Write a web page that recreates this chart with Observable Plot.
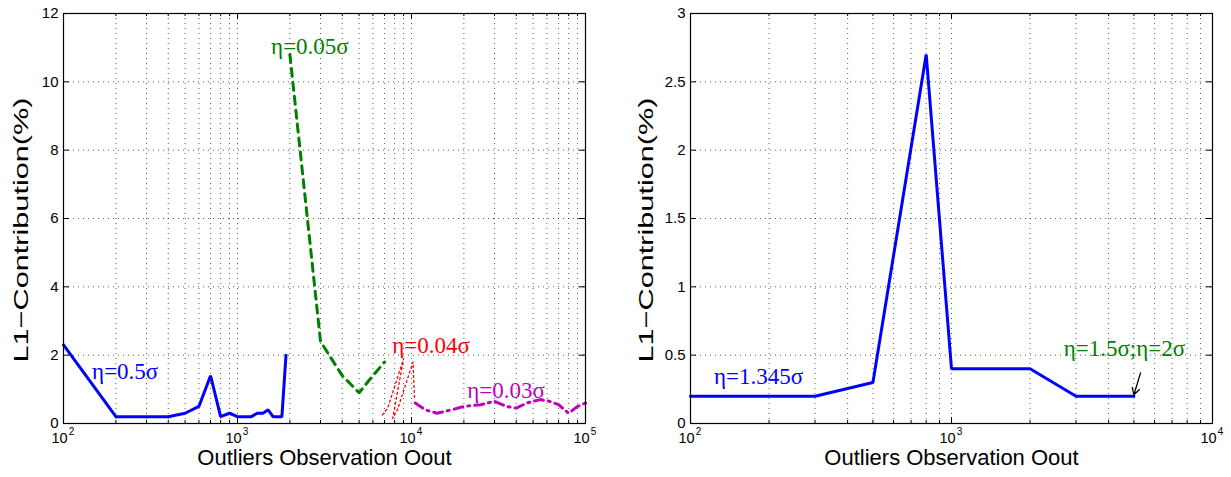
<!DOCTYPE html>
<html><head><meta charset="utf-8">
<script src="https://cdn.jsdelivr.net/npm/d3@7"></script>
<script src="https://cdn.jsdelivr.net/npm/@observablehq/plot@0.6"></script>
<style>
html,body{margin:0;padding:0;background:#fff;}
#wrap{position:relative;width:1231px;height:477px;overflow:hidden;background:#fff;}
#wrap svg{position:absolute;top:0;}
</style></head><body><div id="wrap"></div>
<script>
// ---------- Left panel data ----------
const blueX = [100,200,300,400,500,600,700,800,900,1000,1100,1200,1300,1400,1500,1600,1700,1800,1900];
const blueY = [2.3,0.2,0.2,0.2,0.3,0.5,1.4,0.2,0.3,0.2,0.2,0.2,0.3,0.3,0.4,0.2,0.2,0.2,2.0];
const greenX = [2000,3000,4000,5000,6000,7000];
const greenY = [10.8,2.4,1.4,0.9,1.4,1.8];
const redX = [6800,7300,9000,7800,8300,10200,10400];
const redY = [0.25,0.45,1.9,0.15,0.4,1.8,0.75];
const magentaX = [10500,12000,14000,17000,20000,25000,30000,35000,40000,46000,55000,62000,70000,80000,90000,100000];
const magentaY = [0.6,0.4,0.3,0.4,0.5,0.55,0.65,0.5,0.45,0.6,0.7,0.65,0.55,0.3,0.5,0.6];
const leftLabelText = ["η=0.5σ","η=0.05σ","η=0.04σ","η=0.03σ"];
const leftLabelX = [146,1560,7750,20900];
const leftLabelY = [1.52,11.03,2.28,0.95];
const leftLabelColor = ["#0000ff","#007f00","#ff0000","#bf00bf"];
const leftYTicks = [0,2,4,6,8,10,12];
const leftXMajors = [1e2,1e3,1e4,1e5];

// ---------- Right panel data ----------
const rightX = [100,300,500,800,1000,2000,3000,5000];
const rightY = [0.2,0.2,0.3,2.7,0.4,0.4,0.2,0.2];
const rightLabelText = ["η=1.345σ","η=1.5σ;η=2σ"];
const rightLabelX = [123,2690];
const rightLabelY = [0.34,0.55];
const rightLabelColor = ["#0000ff","#007f00"];
const arrowX1 = [5300], arrowY1 = [0.37], arrowX2 = [5000], arrowY2 = [0.21];
const rightYTicks = [0,0.5,1,1.5,2,2.5,3];
const rightXMajors = [1e2,1e3,1e4];

const xTitle = "Outliers Observation Oout";
const yTitle = "L1\u2212Contribution(%)";

function minorsOf(majors){
  const out=[];
  for(let i=0;i<majors.length-1;i++) for(let k=2;k<=9;k++) out.push(majors[i]*k);
  return out;
}

function panel(o){
  const H=477, mT=13, mB=54;
  const fh = H-mT-mB, fw = o.width-o.mL-o.mR;
  const minors = minorsOf(o.xMajors);
  const gridX = [...o.xMajors.slice(1,-1), ...minors];
  const gridY = o.yTicks.slice(1,-1);
  const grid = {stroke:"#000", strokeOpacity:0.8, strokeWidth:0.8, strokeDasharray:"1,4"};
  const sans = "Liberation Sans, Arial, Helvetica, sans-serif";
  const serif = "Liberation Serif, Times New Roman, serif";
  const marks = [
    Plot.ruleY(gridY, {y:d=>d, ...grid}),
    Plot.ruleX(gridX, {x:d=>d, ...grid}),
    // inner ticks
    Plot.ruleX(o.xMajors, {x:d=>d, insetTop:fh-6, stroke:"#000"}),
    Plot.ruleX(o.xMajors, {x:d=>d, insetBottom:fh-6, stroke:"#000"}),
    Plot.ruleX(minors, {x:d=>d, insetTop:fh-3, stroke:"#000"}),
    Plot.ruleX(minors, {x:d=>d, insetBottom:fh-3, stroke:"#000"}),
    Plot.ruleY(o.yTicks, {y:d=>d, insetRight:fw-6, stroke:"#000"}),
    Plot.ruleY(o.yTicks, {y:d=>d, insetLeft:fw-6, stroke:"#000"}),
    ...o.lines,
    Plot.frame({stroke:"#000", strokeWidth:1.2}),
    // tick labels
    Plot.text(o.yTicks, {y:d=>d, text:d=>String(d), frameAnchor:"left", textAnchor:"end", dx:-5, fontSize:15, fontFamily:sans, fill:"#000"}),
    Plot.text(o.xMajors, {x:d=>d, text:()=> "10", frameAnchor:"bottom", dy:19, dx:-4, fontSize:14.5, fontFamily:sans, fill:"#000"}),
    Plot.text(o.xMajors, {x:d=>d, text:d=>String(Math.round(Math.log10(d))), frameAnchor:"bottom", dy:11, dx:8, fontSize:10, fontFamily:sans, fill:"#000"}),
    // axis titles
    Plot.text([xTitle], {text:d=>d, frameAnchor:"bottom", dy:41, fontSize:22, fontFamily:sans, fill:"#000"}),
    Plot.text([yTitle], {text:d=>d, frameAnchor:"left", rotate:-90, dx:o.yTitleDx, dy:12, fontSize:21, fontFamily:sans, fill:"#000"}),
    // series labels
    Plot.text(o.labels, {x:"x", y:"y", text:"t", fill:"c", textAnchor:"start", fontSize:23, fontFamily:serif}),
    ...(o.extra||[])
  ];
  return Plot.plot({
    width:o.width, height:H, marginLeft:o.mL, marginRight:o.mR, marginTop:mT, marginBottom:mB,
    x:{type:"log", domain:o.xDomain, axis:null},
    y:{domain:o.yDomain, axis:null},
    style:{background:"white", fontFamily:"Liberation Sans, Arial, sans-serif", overflow:"visible"},
    marks
  });
}

const blue = blueX.map((x,i)=>({x, y:blueY[i]}));
const green = greenX.map((x,i)=>({x, y:greenY[i]}));
const red = redX.map((x,i)=>({x, y:redY[i]}));
const magenta = magentaX.map((x,i)=>({x, y:magentaY[i]}));
const right = rightX.map((x,i)=>({x, y:rightY[i]}));
const leftLabels = leftLabelText.map((t,i)=>({t, x:leftLabelX[i], y:leftLabelY[i], c:leftLabelColor[i]}));
const rightLabels = rightLabelText.map((t,i)=>({t, x:rightLabelX[i], y:rightLabelY[i], c:rightLabelColor[i]}));
const arrows = arrowX1.map((x1,i)=>({x1, y1:arrowY1[i], x2:arrowX2[i], y2:arrowY2[i]}));

const left = panel({
  width:615, mL:63, mR:30, xDomain:[1e2,1e5], yDomain:[0,12],
  xMajors:leftXMajors, yTicks:leftYTicks, yTitleDx:-42,
  lines:[
    Plot.line(blue, {x:"x", y:"y", stroke:"#0000ff", strokeWidth:3, strokeLinejoin:"miter"}),
    Plot.line(green, {x:"x", y:"y", stroke:"#007f00", strokeWidth:3, strokeDasharray:"8,6"}),
    Plot.line(red, {x:"x", y:"y", stroke:"#ff0000", strokeWidth:1.3, strokeDasharray:"2,3"}),
    Plot.line(magenta, {x:"x", y:"y", stroke:"#bf00bf", strokeWidth:3, strokeDasharray:"9,5,2,5"})
  ],
  labels:leftLabels
});
const rightPlot = panel({
  width:616, mL:75, mR:19, xDomain:[1e2,1e4], yDomain:[0,3],
  xMajors:rightXMajors, yTicks:rightYTicks, yTitleDx:-44,
  lines:[
    Plot.line(right, {x:"x", y:"y", stroke:"#0000ff", strokeWidth:3, strokeLinejoin:"miter"})
  ],
  labels:rightLabels,
  extra:[Plot.arrow(arrows, {x1:"x1", y1:"y1", x2:"x2", y2:"y2", stroke:"#000", strokeWidth:1.3, headLength:10})]
});
const wrap = document.getElementById("wrap");
left.style.left = "0px";
rightPlot.style.left = "615px";
wrap.appendChild(left);
wrap.appendChild(rightPlot);
document.querySelectorAll("#wrap text").forEach(t=>{
  if (t.textContent === yTitle) {
    t.setAttribute("text-anchor", "start");
    t.style.textAnchor = "start";
    t.setAttribute("x", -132);
    t.setAttribute("textLength", 265);
    t.setAttribute("lengthAdjust", "spacingAndGlyphs");
  }
});
</script></body></html>
